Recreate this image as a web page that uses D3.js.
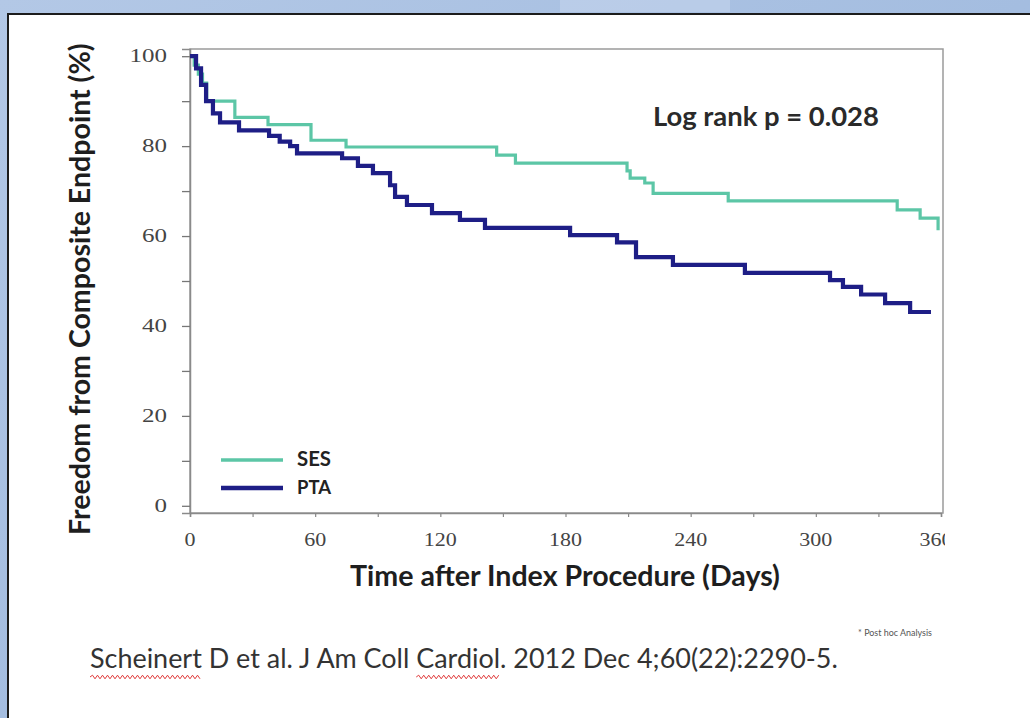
<!DOCTYPE html>
<html><head><meta charset="utf-8">
<script src="https://cdn.jsdelivr.net/npm/d3@7"></script>
<style>html,body{margin:0;padding:0;background:#fff;}svg{display:block;}</style>
</head><body>
<script>
// ---- data ----
const sesTimes = [0, 2, 4, 6, 8, 21.5, 37.4, 58, 74.8, 147, 156, 209.5, 211, 218, 222, 258, 339, 350, 358.6];
const sesSurv  = [100, 98, 96, 94, 90, 86.4, 84.8, 81.3, 79.8, 78, 76.2, 74.5, 72.9, 71.8, 69.5, 67.8, 65.8, 64, 61.3];
const ptaTimes = [0, 2.9, 5.3, 7.7, 11, 14.4, 23.5, 37.9, 43, 48, 51.3, 72.9, 80.5, 87.7, 95.9, 98.3, 104, 116, 129.4, 141.4, 182.2, 204.7, 213.8, 231.5, 266, 306.8, 313, 321.7, 333.2, 345.2, 355.2];
const ptaSurv  = [100, 97.3, 93.6, 90, 87.3, 85.3, 83.5, 82.3, 81, 80, 78.4, 77.3, 75.6, 74, 71.3, 68.7, 66.9, 65.1, 63.6, 61.8, 60.2, 58.6, 55.3, 53.6, 51.8, 50.2, 48.7, 47, 45.1, 43.1, 43.1];
const seriesNames = ["SES", "PTA"];
const xTickLabels = [0, 60, 120, 180, 240, 300, 360];
const yTickLabels = [0, 20, 40, 60, 80, 100];
const xMinorTicks = [0, 30, 60, 90, 120, 150, 180, 210, 240, 270, 300, 330, 360];
const yMinorTicks = [0, 10, 20, 30, 40, 50, 60, 70, 80, 90, 100];
const yTitle = "Freedom from Composite Endpoint (%)";
const xTitle = "Time after Index Procedure (Days)";
const pText = "Log rank p = 0.028";
const footnote = "* Post hoc Analysis";
const citation = "Scheinert D et al. J Am Coll Cardiol. 2012 Dec 4;60(22):2290-5.";

const W = 1030, H = 718;
const svg = d3.select("body").append("svg").attr("width", W).attr("height", H);
const defs = svg.append("defs");
const g1 = defs.append("linearGradient").attr("id","bg").attr("x1","0").attr("y1","0").attr("x2","1").attr("y2","1");
g1.append("stop").attr("offset","0").attr("stop-color","#b3c8e6");
g1.append("stop").attr("offset","0.5").attr("stop-color","#a4bde0");
g1.append("stop").attr("offset","1").attr("stop-color","#9fb8dc");
svg.append("rect").attr("width",W).attr("height",H).attr("fill","url(#bg)");
svg.append("rect").attr("x",560).attr("y",0).attr("width",170).attr("height",12).attr("fill","#c4d4ec").attr("opacity",0.6);
svg.append("rect").attr("x",8).attr("y",14).attr("width",W+10).attr("height",H+10)
  .attr("fill","#fff").attr("stroke","#1c1c1c").attr("stroke-width",2);

// ---- scales ----
const x = d3.scaleLinear().domain([0, 360]).range([190, 941]);
const y = d3.scaleLinear().domain([-1.6, 101.6]).range([513, 49]);

// frame
svg.append("rect").attr("x",190).attr("y",49).attr("width",753).attr("height",464)
  .attr("fill","none").attr("stroke","#9a9a9a").attr("stroke-width",1.5);

// y axis ticks
const yAxis = d3.axisLeft(y).tickValues(yMinorTicks).tickSize(8).tickFormat("");
const ya = svg.append("g").attr("transform","translate(190,0)").call(yAxis);
ya.select(".domain").attr("stroke","#8a8a8a").attr("stroke-width",1.5);
ya.selectAll(".tick line").attr("stroke","#777").attr("stroke-width",1.3);
svg.append("g").selectAll("text").data(yTickLabels).join("text")
  .attr("x",167).attr("y",d=>y(d)+6).attr("text-anchor","end")
  .attr("font-family","Liberation Serif").attr("font-size",18).attr("fill","#444")
  .text(d=>d).attr("textLength",d=>String(d).length*12.5).attr("lengthAdjust","spacingAndGlyphs");

// x axis ticks
const xAxis = d3.axisBottom(x).tickValues(xMinorTicks).tickSize(4).tickFormat("");
const xa = svg.append("g").attr("transform","translate(0,513)").call(xAxis);
xa.select(".domain").attr("stroke","#8a8a8a").attr("stroke-width",1.5);
xa.selectAll(".tick line").attr("stroke","#888").attr("stroke-width",1.2);
defs.append("clipPath").attr("id","xclip").append("rect").attr("x",0).attr("y",500).attr("width",945).attr("height",80);
svg.append("g").attr("clip-path","url(#xclip)").selectAll("text").data(xTickLabels).join("text")
  .attr("x",d=>x(d) - (d===360?5:0)).attr("y",546).attr("text-anchor","middle")
  .attr("font-family","Liberation Serif").attr("font-size",18).attr("fill","#444")
  .text(d=>d).attr("textLength",d=>String(d).length*11).attr("lengthAdjust","spacingAndGlyphs");

function fitFont(sel, target){
  const w = sel.node().getComputedTextLength();
  const fs = parseFloat(sel.attr("font-size"));
  sel.attr("font-size", fs*target/w);
  return sel;
}

// curves
const line = d3.line().x(d=>x(d[0])).y(d=>y(d[1])).curve(d3.curveStepAfter);
const sesPts = sesTimes.map((t,i)=>[t, sesSurv[i]]);
const ptaPts = ptaTimes.map((t,i)=>[t, ptaSurv[i]]);
svg.append("path").attr("d",line(sesPts)).attr("fill","none").attr("stroke","#5cc6a6").attr("stroke-width",3.2);
svg.append("path").attr("d",line(ptaPts)).attr("fill","none").attr("stroke","#1e1e86").attr("stroke-width",4.2);

// legend
const legY = [460, 488];
const legCol = ["#5cc6a6", "#1e1e86"];
const legW = [3.6, 4.4];
seriesNames.forEach((n,i)=>{
  svg.append("line").attr("x1",221).attr("x2",283).attr("y1",legY[i]).attr("y2",legY[i])
    .attr("stroke",legCol[i]).attr("stroke-width",legW[i]);
  const t = svg.append("text").attr("x",297).attr("y",legY[i]+5.5)
    .attr("font-family","Lato").attr("font-weight","bold").attr("font-size",15).attr("fill","#222").text(n);
  fitFont(t, 34);
});

// log rank
fitFont(svg.append("text").attr("x",653).attr("y",126).attr("font-family","Lato").attr("font-weight","bold")
  .attr("font-size",22).attr("fill","#2a2a2a").text(pText), 226);

// axis titles
fitFont(svg.append("text").attr("transform","translate(90,535) rotate(-90)").attr("x",0).attr("y",0)
  .attr("font-family","Lato").attr("font-weight","bold").attr("font-size",21).attr("fill","#1e1e1e").text(yTitle), 492);
fitFont(svg.append("text").attr("x",565).attr("y",586).attr("text-anchor","middle").attr("font-family","Lato").attr("font-weight","bold")
  .attr("font-size",21).attr("fill","#1e1e1e").text(xTitle), 430);

// footnote
fitFont(svg.append("text").attr("x",932).attr("y",636).attr("text-anchor","end").attr("font-family","Lato")
  .attr("font-size",11).attr("fill","#555").text(footnote), 74);

// citation
const cit = svg.append("text").attr("x",90).attr("y",668).attr("font-family","Lato")
  .attr("font-size",22).attr("fill","#333").text(citation);
fitFont(cit, 748);
function wavy(x0, x1, yy){
  let p = "M"+x0+","+yy; let up = true;
  for(let xx=x0+2.5; xx<=x1; xx+=2.5){ p += "L"+xx+","+(yy+(up?-1.8:1.8)); up=!up; }
  svg.append("path").attr("d",p).attr("fill","none").attr("stroke","#e03a3a").attr("stroke-width",1);
}
const n = cit.node();
const s1 = n.getStartPositionOfChar(0).x, e1 = n.getEndPositionOfChar(8).x;
const ci = citation.indexOf("Cardiol");
const s2 = n.getStartPositionOfChar(ci).x, e2 = n.getEndPositionOfChar(ci+6).x;
wavy(s1, e1, 677); wavy(s2, e2, 677);
</script>
</body></html>
